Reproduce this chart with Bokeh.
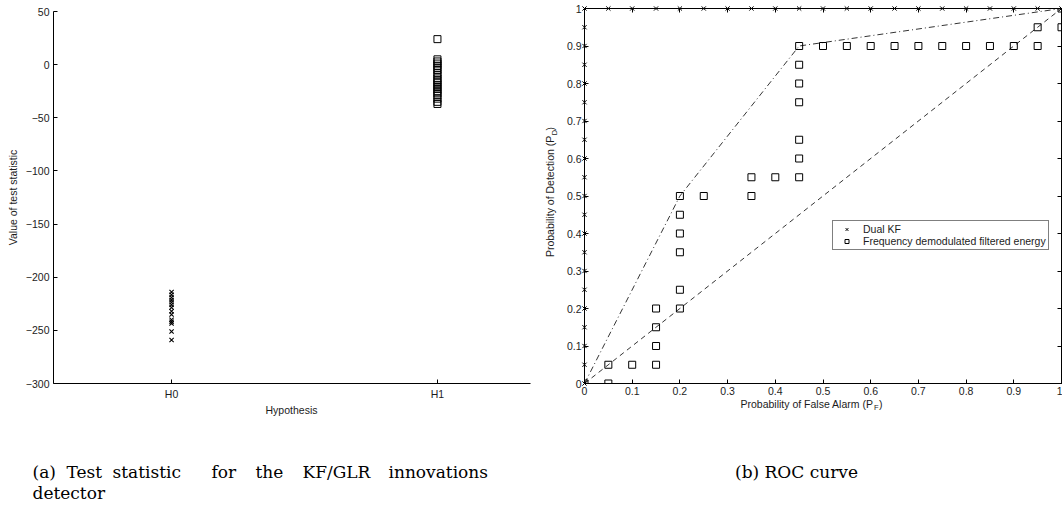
from math import pi

from bokeh.plotting import figure
from bokeh.layouts import row, column
from bokeh.models import FixedTicker, LinearAxis, Range1d, Legend, LegendItem
from bokeh.core.properties import value
from bokeh.embed import file_html
from bokeh.resources import INLINE

# ---------------------------------------------------------------- data
hypotheses = ["H0", "H1"]
h0_stat = [-214, -216.5, -219, -221.5, -223.5, -226, -228.5, -232, -235,
           -240, -242, -243.5, -251, -259]
h1_stat = [24, 5, 3, 1, -1, -3, -5, -8, -10, -13, -15, -17, -19, -21, -23,
           -25, -27, -29, -32, -35, -37]
stat_ticks = [50, 0, -50, -100, -150, -200, -250, -300]

# ROC of the dual Kalman filter detector
dual_pf = [0, 0, 0, 0, 0, 0, 0, 0, 0, 0, 0, 0, 0, 0, 0, 0, 0, 0, 0, 0, 0,
           0.05, 0.1, 0.15, 0.2, 0.25, 0.3, 0.35, 0.4, 0.45, 0.5, 0.55, 0.6,
           0.65, 0.7, 0.75, 0.8, 0.85, 0.9, 0.95, 1.0]
dual_pd = [0, 0.05, 0.1, 0.15, 0.2, 0.25, 0.3, 0.35, 0.4, 0.45, 0.5, 0.55,
           0.6, 0.65, 0.7, 0.75, 0.8, 0.85, 0.9, 0.95, 1.0,
           1, 1, 1, 1, 1, 1, 1, 1, 1, 1, 1, 1, 1, 1, 1, 1, 1, 1, 1, 1]

# ROC of the frequency demodulated filtered energy detector
fm_pf = [0, 0.05, 0.05, 0.1, 0.15, 0.15, 0.15, 0.15, 0.2, 0.2, 0.2, 0.2,
         0.2, 0.2, 0.25, 0.35, 0.35, 0.4, 0.45, 0.45, 0.45, 0.45, 0.45, 0.45,
         0.45, 0.5, 0.55, 0.6, 0.65, 0.7, 0.75, 0.8, 0.85, 0.9, 0.95, 0.95,
         1.0, 1.0]
fm_pd = [0, 0, 0.05, 0.05, 0.05, 0.1, 0.15, 0.2, 0.2, 0.25, 0.35, 0.4, 0.45,
         0.5, 0.5, 0.5, 0.55, 0.55, 0.55, 0.6, 0.65, 0.75, 0.8, 0.85, 0.9,
         0.9, 0.9, 0.9, 0.9, 0.9, 0.9, 0.9, 0.9, 0.9, 0.9, 0.95, 0.95, 1.0]

# convex hull of the energy detector ROC, and the chance line
hull_pf = [0, 0.2, 0.45, 1.0]
hull_pd = [0, 0.5, 0.9, 1.0]
chance_pf = [0, 1]
chance_pd = [0, 1]

prob_ticks = [0, 0.1, 0.2, 0.3, 0.4, 0.5, 0.6, 0.7, 0.8, 0.9, 1.0]
prob_labels = ["0", "0.1", "0.2", "0.3", "0.4", "0.5", "0.6", "0.7", "0.8",
               "0.9", "1"]

# ---------------------------------------------------------------- style
SANS = "Liberation Sans"
SERIF = "DejaVu Serif"
FS = "10.5px"
SUB = "7.5px"
CAP = "17px"
INK = "#1c1c1c"


def style_axis(ax):
    ax.axis_line_color = "black"
    ax.axis_line_width = 1
    ax.major_tick_in = 4
    ax.major_tick_out = 0
    ax.minor_tick_in = 0
    ax.minor_tick_out = 0
    ax.major_tick_line_color = "black"
    ax.major_label_text_font = SANS
    ax.major_label_text_font_size = FS
    ax.major_label_text_color = INK
    ax.axis_label_text_font = SANS
    ax.axis_label_text_font_size = FS
    ax.axis_label_text_font_style = "normal"
    ax.axis_label_text_color = INK


def text_panel(width, height, x0):
    """Bare canvas whose data units are page pixels (x from x0, y upward)."""
    f = figure(width=width, height=height, output_backend="svg",
               toolbar_location=None, x_range=Range1d(x0, x0 + width),
               y_range=Range1d(0, height), x_axis_location=None,
               y_axis_location=None, min_border=0)
    f.outline_line_color = None
    f.grid.visible = False
    return f


def put(f, x, y, txt, size=FS, font=SANS, align="left", angle=0.0,
        color=INK):
    f.text(x=[x], y=[y], text=[txt], text_font=value(font),
           text_font_size=value(size), text_color=color, text_align=align,
           text_baseline="middle", angle=angle)


# ---------------------------------------------------------------- (a)
LX0, LX1 = 0.556, 2.35
TOP_H = 402
left = figure(width=531, height=TOP_H, output_backend="svg",
              toolbar_location=None,
              x_range=Range1d(LX0, LX1), y_range=Range1d(-300, 50),
              min_border_left=53, min_border_right=1, min_border_top=11,
              min_border_bottom=16)
left.outline_line_color = None
left.grid.visible = False

hyp_pos = {h: i + 1 for i, h in enumerate(hypotheses)}
left.scatter([hyp_pos["H0"]] * len(h0_stat), h0_stat, marker="x", size=6,
             line_color="black", line_width=1.1)
left.scatter([hyp_pos["H1"]] * len(h1_stat), h1_stat, marker="square",
             size=7, fill_color=None, line_color="black", line_width=1)

left.xaxis.ticker = FixedTicker(ticks=list(hyp_pos.values()))
left.xaxis.major_label_overrides = {v: k for k, v in hyp_pos.items()}
left.yaxis.ticker = FixedTicker(ticks=stat_ticks)
left.yaxis.major_label_overrides = {
    t: (str(t) if t >= 0 else "\u2212" + str(-t)) for t in stat_ticks}
left.yaxis.axis_label = "Value of test statistic"
for ax in (left.xaxis[0], left.yaxis[0]):
    style_axis(ax)
left.xaxis.major_label_standoff = 4
left.yaxis.major_label_standoff = 4
left.yaxis.axis_label_standoff = 4

# x-axis title and caption of panel (a); y below is 508 - page y
left_strip = text_panel(531, 508 - TOP_H, 0)
put(left_strip, 291, 508 - 409, "Hypothesis", align="center")
cap_words = ["(a)", "Test", "statistic", "for", "the", "KF/GLR",
             "innovations"]
cap_starts = [32, 66, 112, 211, 255, 302, 388]
for w, sx in zip(cap_words, cap_starts):
    put(left_strip, sx, 508 - 471, w, size=CAP, font=SERIF, color="black")
put(left_strip, 32, 508 - 492, "detector", size=CAP, font=SERIF,
    color="black")

# ---------------------------------------------------------------- (b)
RTOP_H = 398
YLAB_W = 30
right = figure(width=531 - YLAB_W, height=RTOP_H, output_backend="svg",
               toolbar_location=None,
               x_range=Range1d(0, 1), y_range=Range1d(0, 1),
               min_border_left=584 - 531 - YLAB_W, min_border_right=1,
               min_border_top=8, min_border_bottom=RTOP_H - 383)
right.outline_line_color = "black"
right.grid.visible = False

right.line(chance_pf, chance_pd, line_color="black", line_width=0.8,
           line_dash="5 4")
right.line(hull_pf, hull_pd, line_color="black", line_width=0.8,
           line_dash="6 3 1 3")
r_fm = right.scatter(fm_pf, fm_pd, marker="square", size=7, fill_color=None,
                     line_color="black", line_width=1)
r_dual = right.scatter(dual_pf, dual_pd, marker="x", size=6,
                       line_color="black", line_width=1, level="overlay")

for ax in (right.xaxis[0], right.yaxis[0]):
    ax.ticker = FixedTicker(ticks=prob_ticks)
    ax.major_label_overrides = dict(zip(prob_ticks, prob_labels))
    style_axis(ax)
    ax.major_label_standoff = 3

# inward ticks on the top and right edges of the box
for loc in ("right", "above"):
    ax = LinearAxis(ticker=FixedTicker(ticks=prob_ticks))
    style_axis(ax)
    ax.major_label_text_font_size = "1px"
    ax.major_label_text_color = None
    ax.major_label_standoff = 0
    right.add_layout(ax, loc)

legend = Legend(items=[LegendItem(label="Dual KF", renderers=[r_dual]),
                       LegendItem(label="Frequency demodulated filtered energy",
                                  renderers=[r_fm])],
                location=(248, 133), orientation="vertical",
                label_text_font=SANS, label_text_font_size=FS,
                label_text_color=INK, padding=2, spacing=0, margin=0,
                glyph_width=23, glyph_height=10, label_height=10,
                label_standoff=5, border_line_color="black",
                border_line_width=1, background_fill_color="white",
                background_fill_alpha=1.0)
right.add_layout(legend)

# y-axis title with subscript, read bottom to top
ylab = text_panel(YLAB_W, RTOP_H, 531)
put(ylab, 549, RTOP_H - 135, "Probability of Detection (P", align="right",
    angle=pi / 2)
put(ylab, 553.5, RTOP_H - 134.5, "D", size=SUB, angle=pi / 2)
put(ylab, 549, RTOP_H - 129.5, ")", angle=pi / 2)

# x-axis title with subscript, and caption of panel (b)
right_strip = text_panel(531, 508 - RTOP_H, 531)
put(right_strip, 873, 508 - 403, "Probability of False Alarm (P",
    align="right")
put(right_strip, 873.5, 508 - 407, "F", size=SUB)
put(right_strip, 878.5, 508 - 403, ")")
put(right_strip, 796, 508 - 471, "(b) ROC curve", size=CAP, font=SERIF,
    align="center", color="black")

page = row(column(row(left), left_strip),
           column(row(ylab, right), right_strip))
open("out.html", "w").write(file_html(page, INLINE))
